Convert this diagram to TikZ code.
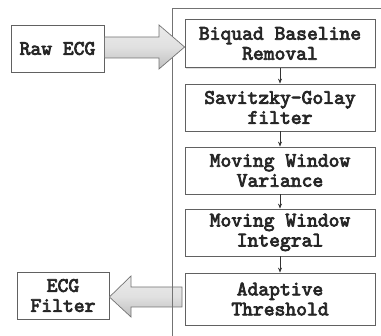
\documentclass[tikz,border=0pt]{standalone}
\usepackage{fontspec}
\newfontfamily\boxfont{lmmono10-regular.otf}[FakeBold=3.5]
\usetikzlibrary{shadows,arrows.meta}
\begin{document}
\begin{tikzpicture}[x=1pt,y=-1pt,
 box/.style={draw=black!62, line width=0.8pt, fill=white,
   font=\boxfont\fontsize{20.6}{20}\selectfont, text=black!85, align=center,
   inner sep=0pt, minimum width=190pt, minimum height=47pt,
   drop shadow={shadow xshift=1.2pt, shadow yshift=-1.2pt, opacity=0.25}},
 side/.style={box, minimum width=93pt},
 fat/.style={draw=black!55, line width=0.7pt, top color=black!8, bottom color=black!25, middle color=black!12},
 flow/.style={draw=black!80, line width=0.7pt, -{Stealth[length=5pt,width=4pt]}}]
\useasboundingbox (0,0) rectangle (381,336);
\node[side, minimum height=47pt] (raw) at (57.5,48.5) {Raw ECG};
\node[side, minimum width=92pt, minimum height=47pt] (out) at (63,295.5) {ECG\\Filter};
\node[box, minimum height=48pt] (b1) at (280,43.5) {Biquad Baseline\\Removal};
\node[box] (b2) at (280,107.5) {Savitzky-Golay\\filter};
\node[box] (b3) at (280,170.5) {Moving Window\\Variance};
\node[box] (b4) at (280,232.5) {Moving Window\\Integral};
\node[box, minimum height=52pt] (b5) at (280,299) {Adaptive\\Threshold};
\draw[flow] (b1) -- (b2);
\draw[flow] (b2) -- (b3);
\draw[flow] (b3) -- (b4);
\draw[flow] (b4) -- (b5);
% bottom big arrow
\draw[fat] (182,287) -- (131,287) -- (131,276) -- (out.east |- 0,297) -- (131,317) -- (131,307) -- (182,307) -- cycle;
% outer frame
\draw[black!55, line width=0.8pt] (172,336) -- (172,8) -- (382,8);
% top big arrow
\draw[fat] (raw.east |- 0,37) -- (159,37) -- (159,25) -- (b1.west |- 0,47) -- (159,69) -- (159,58) -- (raw.east |- 0,58) -- cycle;
\end{tikzpicture}
\end{document}
